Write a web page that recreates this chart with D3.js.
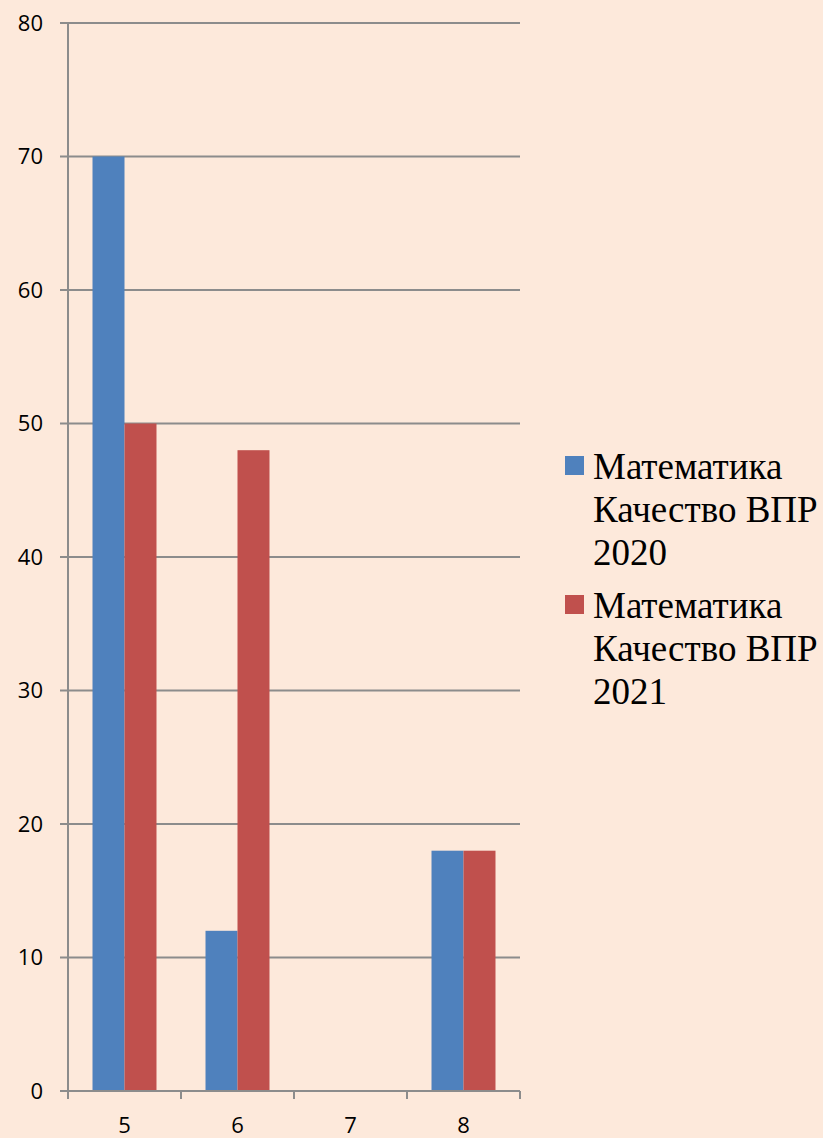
<!DOCTYPE html>
<html>
<head>
<meta charset="utf-8">
<script src="https://cdn.jsdelivr.net/npm/d3@7"></script>
<style>
  html, body { margin: 0; padding: 0; background: #fde9db; }
  svg { display: block; }
</style>
</head>
<body>
<script>
// data
var categories = ["5", "6", "7", "8"];
var seriesNames = ["Математика Качество ВПР 2020", "Математика Качество ВПР 2021"];
var values2020 = [70, 12, 0, 18];
var values2021 = [50, 48, 0, 18];
var yTicks = [0, 10, 20, 30, 40, 50, 60, 70, 80];
var colors = ["#4f81bd", "#c0504d"];

var legendLines = [
  ["Математика", "Качество ВПР", "2020"],
  ["Математика", "Качество ВПР", "2021"]
];

var rows = categories.map(function(c, i) {
  return {cat: c, vals: [values2020[i], values2021[i]]};
});

var svg = d3.select("body").append("svg")
    .attr("width", 823)
    .attr("height", 1138);

var x0 = d3.scaleBand()
    .domain(categories)
    .range([68, 520])
    .paddingInner(0)
    .paddingOuter(0);

var x1 = d3.scaleBand()
    .domain([0, 1])
    .range([0, x0.bandwidth()])
    .paddingInner(0)
    .paddingOuter(0.766);

var y = d3.scaleLinear()
    .domain([0, 80])
    .range([1091, 23]);

var gridColor = "#8c8c8c";

// gridlines
svg.append("g").selectAll("line")
    .data(yTicks)
  .enter().append("line")
    .attr("x1", 60)
    .attr("x2", 520)
    .attr("y1", function(d) { return y(d); })
    .attr("y2", function(d) { return y(d); })
    .attr("stroke", gridColor)
    .attr("stroke-width", 2);

// y labels
svg.append("g").selectAll("text")
    .data(yTicks)
  .enter().append("text")
    .attr("x", 43)
    .attr("y", function(d) { return y(d); })
    .attr("dy", "0.36em")
    .attr("text-anchor", "end")
    .attr("font-family", "'Open Sans', sans-serif")
    .attr("font-size", 22)
    .attr("fill", "#000")
    .text(function(d) { return d; });

// bars
var groups = svg.append("g").selectAll("g")
    .data(rows)
  .enter().append("g")
    .attr("transform", function(d) { return "translate(" + x0(d.cat) + ",0)"; });

groups.selectAll("rect")
    .data(function(d) { return d.vals.map(function(v, i) { return {i: i, v: v}; }); })
  .enter().append("rect")
    .filter(function(d) { return d.v > 0; })
    .attr("x", function(d) { return x1(d.i); })
    .attr("width", x1.bandwidth())
    .attr("y", function(d) { return y(d.v); })
    .attr("height", function(d) { return y(0) - y(d.v); })
    .attr("fill", function(d) { return colors[d.i]; });

// axes
svg.append("line")
    .attr("x1", 68).attr("x2", 68)
    .attr("y1", y(80)).attr("y2", y(0) + 8)
    .attr("stroke", gridColor).attr("stroke-width", 2);

svg.append("line")
    .attr("x1", 60).attr("x2", 520)
    .attr("y1", y(0)).attr("y2", y(0))
    .attr("stroke", gridColor).attr("stroke-width", 2);

var tickXs = categories.map(function(c) { return x0(c); }).concat([x0.range()[1]]);
svg.append("g").selectAll("line")
    .data(tickXs)
  .enter().append("line")
    .attr("x1", function(d) { return d; })
    .attr("x2", function(d) { return d; })
    .attr("y1", y(0))
    .attr("y2", y(0) + 8)
    .attr("stroke", gridColor)
    .attr("stroke-width", 2);

// x labels
svg.append("g").selectAll("text")
    .data(categories)
  .enter().append("text")
    .attr("x", function(d) { return x0(d) + x0.bandwidth() / 2; })
    .attr("y", 1133)
    .attr("text-anchor", "middle")
    .attr("font-family", "'Open Sans', sans-serif")
    .attr("font-size", 22)
    .attr("fill", "#000")
    .text(function(d) { return d; });

// legend
var legendTop = [456, 595];
var legend = svg.append("g").selectAll("g")
    .data(seriesNames)
  .enter().append("g");

legend.append("rect")
    .attr("x", 565)
    .attr("y", function(d, i) { return legendTop[i]; })
    .attr("width", 19)
    .attr("height", 19)
    .attr("fill", function(d, i) { return colors[i]; });

legend.append("text")
    .attr("font-family", "'Liberation Serif', 'Times New Roman', serif")
    .attr("font-size", 37)
    .attr("fill", "#000")
    .selectAll("tspan")
    .data(function(d, i) { return legendLines[i].map(function(t, j) { return {t: t, j: j, i: i}; }); })
  .enter().append("tspan")
    .attr("x", 593)
    .attr("y", function(d) { return legendTop[d.i] + 23 + d.j * 43; })
    .text(function(d) { return d.t; });
</script>
</body>
</html>
